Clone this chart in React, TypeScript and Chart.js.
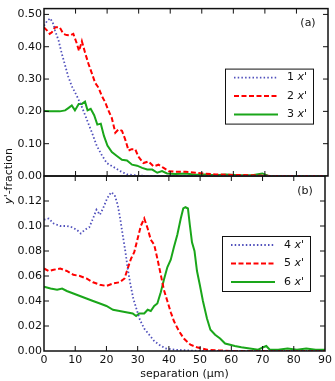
import React, { useEffect, useRef } from "react";
import { Chart, registerables } from "chart.js";

Chart.register(...registerables);

const FONT = '"DejaVu Sans", sans-serif';
const INK = "#111111";

// ---- Panel (a) ----
const sepA1 = [0, 1, 2, 3, 3.5, 4.6, 5.6, 6.7, 7.7, 8.8, 10.4, 12, 13.6, 15.2, 16.7, 18.3, 19.9, 22, 24.2, 26.3, 28.4, 30, 35, 40, 50, 60, 70, 80, 90];
const fracA1 = [0.465, 0.48, 0.488, 0.47, 0.45, 0.42, 0.38, 0.342, 0.307, 0.278, 0.248, 0.214, 0.174, 0.134, 0.094, 0.065, 0.04, 0.028, 0.015, 0.005, 0.003, 0.001, 0, 0, 0, 0, 0, 0, 0];

const sepA2 = [0, 1, 1.8, 2.5, 3.5, 5, 6.1, 7.2, 8.3, 9.3, 10.4, 11.1, 12, 13, 14.1, 15.2, 16.2, 17.3, 18.3, 19.4, 20.4, 21.5, 22.6, 23.6, 24.7, 25.7, 26.8, 27.8, 28.9, 29.9, 31.5, 33.1, 34.7, 36.3, 37.9, 39.5, 41.7, 44.8, 48, 51.2, 54.4, 57.6, 61.8, 67, 72, 80, 90];
const fracA2 = [0.46, 0.45, 0.44, 0.445, 0.46, 0.46, 0.44, 0.436, 0.435, 0.44, 0.41, 0.387, 0.417, 0.382, 0.347, 0.317, 0.288, 0.273, 0.248, 0.228, 0.203, 0.179, 0.134, 0.144, 0.14, 0.114, 0.079, 0.083, 0.083, 0.06, 0.04, 0.045, 0.03, 0.035, 0.025, 0.015, 0.013, 0.013, 0.01, 0.007, 0.005, 0.004, 0.003, 0.002, 0, 0, 0];

const sepA3 = [0, 1.9, 5, 6.7, 7.7, 8.8, 9.8, 11, 12, 13, 13.8, 14.8, 15.9, 16.9, 18, 19, 20.1, 21.5, 23.1, 24.7, 26.3, 27.9, 29.5, 31.1, 32.7, 34.3, 35.9, 37.4, 39, 41.7, 44.8, 48, 51.2, 54.4, 57.6, 61.8, 66, 69.2, 71, 75, 80, 90];
const fracA3 = [0.201, 0.2, 0.2, 0.203, 0.21, 0.218, 0.203, 0.223, 0.223, 0.23, 0.203, 0.208, 0.188, 0.159, 0.162, 0.124, 0.094, 0.074, 0.062, 0.05, 0.048, 0.035, 0.032, 0.025, 0.02, 0.02, 0.01, 0.015, 0.008, 0.006, 0.008, 0.004, 0.005, 0.002, 0.005, 0.002, 0.002, 0.008, 0.001, 0, 0, 0];

// ---- Panel (b) ----
const sepB4 = [0, 1.5, 3.1, 5.2, 7.3, 8.9, 10.5, 11.8, 13.1, 14.5, 15.7, 16.8, 17.9, 18.9, 20.2, 21.5, 22.6, 23.6, 24.4, 25.2, 26.1, 26.8, 27.7, 28.6, 29.7, 30.7, 32.1, 33.7, 35.3, 36.9, 38.9, 42, 50, 60, 70, 80, 90];
const fracB4 = [0.105, 0.106, 0.102, 0.1, 0.1, 0.099, 0.097, 0.094, 0.097, 0.099, 0.106, 0.113, 0.109, 0.114, 0.122, 0.127, 0.125, 0.117, 0.106, 0.093, 0.079, 0.066, 0.053, 0.042, 0.033, 0.025, 0.018, 0.013, 0.008, 0.005, 0.002, 0.001, 0, 0, 0, 0, 0];

const sepB5 = [0, 1.5, 3.1, 5.2, 7.3, 9.4, 11.5, 13.6, 15.7, 17.9, 20, 22.1, 24.2, 25.8, 26.8, 27.9, 28.9, 30, 31, 32.1, 33.2, 34.2, 35.3, 36.3, 37.4, 38.4, 39.5, 40.6, 41.6, 43.2, 44.8, 46.9, 49, 52.2, 56, 60, 70, 80, 90];
const fracB5 = [0.066, 0.064, 0.065, 0.066, 0.064, 0.061, 0.06, 0.058, 0.055, 0.053, 0.052, 0.054, 0.055, 0.058, 0.066, 0.074, 0.079, 0.09, 0.1, 0.106, 0.098, 0.089, 0.085, 0.074, 0.061, 0.049, 0.04, 0.031, 0.024, 0.016, 0.01, 0.005, 0.003, 0.001, 0.0005, 0, 0, 0, 0];

const sepB6 = [0, 2.1, 4.2, 5.8, 7.3, 9.4, 11.5, 13.6, 15.7, 17.9, 20, 22.1, 24.2, 26.3, 28.4, 29.5, 30.5, 32.1, 33.2, 34.2, 35.3, 36.3, 37.4, 38.4, 39.5, 40.6, 41.6, 42.7, 43.8, 44.6, 45.3, 46.1, 46.7, 47.4, 48.2, 49, 49.9, 50.9, 52.2, 53.3, 54.8, 56.4, 58, 59.6, 61.1, 63.2, 65.9, 68.6, 70.2, 71.2, 72.3, 75, 78, 81, 84, 87, 90];
const fracB6 = [0.0515, 0.05, 0.049, 0.05, 0.048, 0.046, 0.044, 0.042, 0.04, 0.038, 0.036, 0.033, 0.032, 0.031, 0.03, 0.028, 0.03, 0.03, 0.033, 0.032, 0.036, 0.038, 0.047, 0.057, 0.067, 0.073, 0.083, 0.093, 0.106, 0.114, 0.115, 0.114, 0.101, 0.087, 0.08, 0.064, 0.053, 0.04, 0.026, 0.017, 0.013, 0.01, 0.006, 0.005, 0.004, 0.003, 0.002, 0.001, 0.003, 0.004, 0.001, 0.001, 0.002, 0.001, 0.002, 0.001, 0.001];

const legendA = ["1", "2", "3"];
const legendB = ["4", "5", "6"];

const xTicks = [0, 10, 20, 30, 40, 50, 60, 70, 80, 90];
const yTicksA = [0, 0.1, 0.2, 0.3, 0.4, 0.5];
const yTicksB = [0, 0.02, 0.04, 0.06, 0.08, 0.1, 0.12];

const STYLES = [
  { color: "#5050bc", dash: [1.5, 2.2], width: 1.8 },
  { color: "#ff0000", dash: [5, 2.5], width: 2 },
  { color: "#1aa61a", dash: [] as number[], width: 2 },
];

const W = 335;
const H = 381;

function pts(xs: number[], ys: number[]) {
  return xs.map((x, i) => ({ x, y: ys[i] }));
}

function drawRich(ctx: CanvasRenderingContext2D, parts: [string, boolean][], x: number, y: number, size: number) {
  let cx = x;
  for (const [t, it] of parts) {
    ctx.font = `${it ? "italic " : ""}${size}px ${FONT}`;
    ctx.fillText(t, cx, y);
    cx += ctx.measureText(t).width;
  }
}
function richWidth(ctx: CanvasRenderingContext2D, parts: [string, boolean][], size: number) {
  let w = 0;
  for (const [t, it] of parts) {
    ctx.font = `${it ? "italic " : ""}${size}px ${FONT}`;
    w += ctx.measureText(t).width;
  }
  return w;
}

const decor = {
  id: "decor",
  afterDraw(chart: any, _args: any, opts: any) {
    const { ctx, chartArea: a } = chart;
    const xs = chart.scales.x;
    const ys = chart.scales.y;
    ctx.save();
    // frame
    ctx.strokeStyle = INK;
    ctx.lineWidth = 1.5;
    ctx.strokeRect(a.left, a.top, a.right - a.left, a.bottom - a.top);
    // inward ticks
    ctx.lineWidth = 1;
    ctx.beginPath();
    for (const v of xTicks) {
      const px = xs.getPixelForValue(v);
      if (px <= a.left + 1 || px >= a.right - 1) continue;
      ctx.moveTo(px, a.bottom);
      ctx.lineTo(px, a.bottom - 5);
      ctx.moveTo(px, a.top);
      ctx.lineTo(px, a.top + 5);
    }
    for (const t of ys.ticks) {
      const py = ys.getPixelForValue(t.value);
      if (py >= a.bottom - 1 || py <= a.top + 1) continue;
      ctx.moveTo(a.left, py);
      ctx.lineTo(a.left + 5, py);
      ctx.moveTo(a.right, py);
      ctx.lineTo(a.right - 5, py);
    }
    ctx.stroke();

    // panel label
    ctx.fillStyle = INK;
    ctx.font = `11px ${FONT}`;
    ctx.textAlign = "center";
    ctx.textBaseline = "middle";
    ctx.fillText(opts.panel, a.right - 20, a.top + 15);

    // legend box
    const bw = 88, bh = 55;
    const bl = a.right - 15 - bw;
    const bt = a.top + 60;
    ctx.fillStyle = "#ffffff";
    ctx.fillRect(bl, bt, bw, bh);
    ctx.strokeStyle = INK;
    ctx.lineWidth = 1;
    ctx.strokeRect(bl + 0.5, bt + 0.5, bw, bh);
    const rows = [9, 27.5, 46];
    opts.labels.forEach((lab: string, i: number) => {
      const st = STYLES[i];
      const y = bt + rows[i];
      ctx.save();
      ctx.strokeStyle = st.color;
      ctx.lineWidth = st.width;
      ctx.setLineDash(st.dash);
      ctx.beginPath();
      ctx.moveTo(bl + 9, y);
      ctx.lineTo(bl + 53, y);
      ctx.stroke();
      ctx.restore();
      ctx.fillStyle = INK;
      ctx.textAlign = "left";
      ctx.textBaseline = "middle";
      drawRich(ctx, [[lab + " ", false], ["x", true], ["'", false]], bl + 62, y, 11);
    });

    if (opts.yTitle) {
      const parts: [string, boolean][] = [["y", true], ["'-fraction", false]];
      ctx.save();
      ctx.translate(9, 176);
      ctx.rotate(-Math.PI / 2);
      ctx.fillStyle = INK;
      ctx.textAlign = "left";
      ctx.textBaseline = "middle";
      const w = richWidth(ctx, parts, 11);
      drawRich(ctx, parts, -w / 2, 0, 11);
      ctx.restore();
    }
    ctx.restore();
  },
};

function makeDatasets(series: { x: number[]; y: number[] }[]) {
  return series.map((s, i) => ({
    data: pts(s.x, s.y),
    borderColor: STYLES[i].color,
    borderDash: STYLES[i].dash,
    borderWidth: STYLES[i].width,
    borderCapStyle: "butt",
    pointRadius: 0,
    tension: 0,
    fill: false,
  }));
}

function makeConfig(top: boolean): any {
  const series = top
    ? [
        { x: sepA1, y: fracA1 },
        { x: sepA2, y: fracA2 },
        { x: sepA3, y: fracA3 },
      ]
    : [
        { x: sepB4, y: fracB4 },
        { x: sepB5, y: fracB5 },
        { x: sepB6, y: fracB6 },
      ];
  const yTicks = top ? yTicksA : yTicksB;
  return {
    type: "line",
    data: { datasets: makeDatasets(series) },
    plugins: [decor],
    options: {
      animation: false,
      responsive: false,
      devicePixelRatio: 1,
      layout: { padding: { left: 0, right: 7, top: top ? 1 : 176, bottom: 0 } },
      plugins: {
        legend: { display: false },
        tooltip: { enabled: false },
        decor: { panel: top ? "(a)" : "(b)", labels: top ? legendA : legendB, yTitle: !top },
      },
      scales: {
        x: {
          type: "linear",
          min: 0,
          max: 90,
          grid: { display: false, drawTicks: false },
          border: { display: false },
          afterBuildTicks: (scale: any) => {
            scale.ticks = xTicks.map((v) => ({ value: v }));
          },
          afterFit: (scale: any) => {
            scale.height = top ? H - 176 : 30;
          },
          ticks: {
            display: !top,
            autoSkip: false,
            maxRotation: 0,
            padding: 3,
            color: INK,
            font: { family: FONT, size: 11 },
            callback: (v: any) => String(v),
          },
          title: {
            display: !top,
            text: "separation (μm)",
            color: INK,
            font: { family: FONT, size: 11 },
            padding: { top: 0, bottom: 0 },
          },
        },
        y: {
          type: "linear",
          min: 0,
          max: top ? 0.518 : 0.14,
          grid: { display: false, drawTicks: false },
          border: { display: false },
          afterBuildTicks: (scale: any) => {
            scale.ticks = yTicks.map((v) => ({ value: v }));
          },
          afterFit: (scale: any) => {
            scale.width = 44;
          },
          ticks: {
            autoSkip: false,
            padding: 2,
            color: INK,
            font: { family: FONT, size: 11 },
            callback: (v: any) => Number(v).toFixed(2),
          },
        },
      },
    },
  };
}

export default function App() {
  const topRef = useRef<HTMLCanvasElement | null>(null);
  const botRef = useRef<HTMLCanvasElement | null>(null);

  useEffect(() => {
    if (!topRef.current || !botRef.current) return;
    const c1 = new Chart(topRef.current, makeConfig(true));
    const c2 = new Chart(botRef.current, makeConfig(false));
    return () => {
      c1.destroy();
      c2.destroy();
    };
  }, []);

  const cs: React.CSSProperties = { position: "absolute", left: 0, top: 0, width: W, height: H };
  return (
    <div style={{ position: "fixed", left: 0, top: 0, width: W, height: H, background: "#ffffff" }}>
      <canvas ref={botRef} width={W} height={H} style={cs} />
      <canvas ref={topRef} width={W} height={H} style={cs} />
    </div>
  );
}
